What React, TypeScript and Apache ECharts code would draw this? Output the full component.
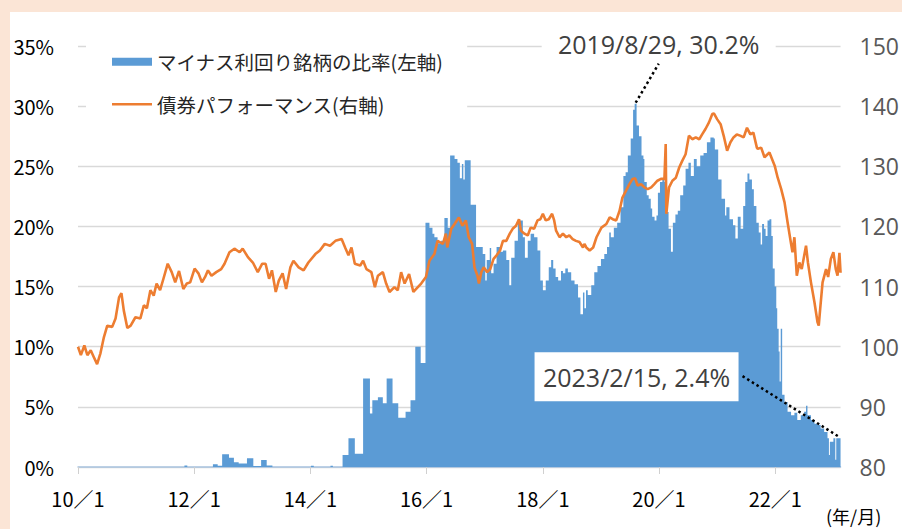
import React, { useEffect, useRef } from 'react';
import * as echarts from 'echarts';

const ratioName = 'マイナス利回り銘柄の比率(左軸)';
const perfName = '債券パフォーマンス(右軸)';

const xTickDates = ['2010-01-01', '2012-01-01', '2014-01-01', '2016-01-01', '2018-01-01', '2020-01-01', '2022-01-01'];
const xMinDate = '2010-01-01';
const xMaxDate = '2023-02-15';

const peakLabel = '2019/8/29, 30.2%';
const lastLabel = '2023/2/15, 2.4%';

const ratioDates = [
  '2010-01-01', '2011-11-01', '2011-11-19', '2012-04-28', '2012-05-28', '2012-06-25', '2012-08-07', '2012-09-07',
  '2012-10-07', '2012-11-28', '2013-01-07', '2013-02-25', '2013-04-01', '2013-05-07', '2014-01-04', '2014-01-22',
  '2014-05-07', '2014-05-22', '2014-07-22', '2014-08-28', '2014-10-07', '2014-11-28', '2015-01-10', '2015-01-25',
  '2015-03-01', '2015-04-01', '2015-04-25', '2015-06-01', '2015-07-07', '2015-08-22', '2015-09-22', '2015-10-22',
  '2015-11-25', '2015-12-25', '2016-01-19', '2016-02-07', '2016-02-19', '2016-03-10', '2016-04-01', '2016-04-22',
  '2016-05-13', '2016-05-28', '2016-06-25', '2016-07-13', '2016-07-28', '2016-08-10', '2016-08-19', '2016-08-28',
  '2016-10-04', '2016-11-07', '2016-12-19', '2017-01-04', '2017-01-13', '2017-02-01', '2017-02-10', '2017-02-25',
  '2017-03-16', '2017-04-07', '2017-04-25', '2017-05-16', '2017-06-04', '2017-06-16', '2017-07-07', '2017-07-28',
  '2017-08-07', '2017-08-28', '2017-09-10', '2017-09-28', '2017-10-16', '2017-11-07', '2017-11-28', '2017-12-16',
  '2018-01-01', '2018-01-19', '2018-02-07', '2018-02-22', '2018-03-07', '2018-03-22', '2018-04-07', '2018-04-25',
  '2018-05-07', '2018-05-22', '2018-06-07', '2018-06-28', '2018-07-19', '2018-08-10', '2018-08-25', '2018-09-10',
  '2018-09-19', '2018-09-29', '2018-10-10', '2018-11-01', '2018-11-20', '2018-12-10', '2019-01-01', '2019-01-22',
  '2019-02-08', '2019-02-22', '2019-03-04', '2019-03-23', '2019-04-13', '2019-05-04', '2019-05-22', '2019-06-05',
  '2019-06-19', '2019-07-07', '2019-07-22', '2019-08-01', '2019-08-13', '2019-08-28', '2019-09-13', '2019-09-25',
  '2019-10-01', '2019-10-16', '2019-10-28', '2019-11-10', '2019-11-19', '2019-12-04', '2019-12-16', '2019-12-25',
  '2020-01-07', '2020-01-22', '2020-02-04', '2020-02-19', '2020-03-01', '2020-03-16', '2020-03-28', '2020-04-13',
  '2020-04-28', '2020-05-13', '2020-06-01', '2020-06-16', '2020-07-04', '2020-07-19', '2020-08-07', '2020-08-25',
  '2020-09-16', '2020-10-07', '2020-10-28', '2020-11-19', '2020-12-10', '2020-12-17', '2021-01-07', '2021-01-28',
  '2021-02-19', '2021-02-27', '2021-03-19', '2021-04-10', '2021-04-25', '2021-05-10', '2021-05-28', '2021-06-13',
  '2021-06-26', '2021-07-10', '2021-07-22', '2021-08-07', '2021-08-19', '2021-09-04', '2021-09-19', '2021-10-01',
  '2021-10-10', '2021-10-22', '2021-11-01', '2021-11-13', '2021-11-25', '2021-12-07', '2021-12-16', '2021-12-28',
  '2022-01-07', '2022-01-13', '2022-01-22', '2022-01-28', '2022-02-04', '2022-02-13', '2022-02-28', '2022-03-19',
  '2022-04-10', '2022-05-01', '2022-05-19', '2022-06-10', '2022-07-01', '2022-07-13', '2022-07-22', '2022-08-13',
  '2022-09-04', '2022-09-23', '2022-10-13', '2022-11-04', '2022-11-25', '2022-12-04', '2022-12-10', '2023-01-01',
  '2023-01-13', '2023-01-19', '2023-02-15',
];
const ratioValues = [
  0, 0.12, 0, 0.22, 0.1, 1.05, 0.77, 0.39,
  0.3, 0.72, 0.08, 0.58, 0.12, 0, 0.1, 0,
  0.1, 0, 1.0, 2.4, 1.1, 7.35, 4.45, 5.55,
  5.8, 5.3, 7.35, 5.3, 4.1, 4.6, 5.55, 10.0,
  8.65, 20.3, 19.9, 19.4, 19.1, 18.6, 18.8, 20.7,
  19.9, 25.9, 25.6, 25.3, 24.0, 25.2, 23.9, 25.5,
  21.8, 18.3, 17.7, 15.5, 17.2, 18.2, 16.1, 16.9,
  18.3, 17.9, 18.0, 17.2, 15.1, 17.4, 18.8, 20.6,
  20.5, 19.1, 17.4, 18.8, 19.4, 19.1, 18.0, 15.5,
  14.7, 15.5, 16.6, 17.2, 16.5, 15.8, 15.5, 16.3,
  16.1, 16.5, 16.2, 15.5, 15.2, 14.1, 12.7, 14.5,
  13.2, 14.7, 14.3, 15.1, 16.2, 16.7, 17.3, 17.7,
  18.3, 19.5, 19.1, 19.9, 20.3, 21.6, 24.2, 24.5,
  25.9, 27.3, 29.7, 30.2, 28.4, 27.5, 25.9, 25.6,
  23.7, 22.6, 22.3, 21.5, 20.8, 20.5, 20.9, 22.8,
  23.7, 23.9, 23.7, 21.2, 19.8, 17.9, 20.3, 21.0,
  21.3, 22.6, 23.4, 24.8, 25.3, 24.2, 25.6, 25.0,
  25.9, 26.1, 27.0, 27.4, 27.3, 26.4, 23.9, 22.3,
  20.9, 21.6, 20.6, 20.1, 19.0, 20.8, 19.8, 21.7,
  23.7, 24.4, 23.9, 23.1, 21.7, 20.3, 19.5, 18.5,
  20.2, 19.8, 19.2, 20.5, 20.6, 19.2, 16.5, 15.0,
  13.2, 11.5, 9.6, 7.1, 11.5, 6.0, 5.4, 4.6,
  4.3, 4.5, 3.9, 4.3, 4.6, 5.1, 4.3, 3.9,
  3.6, 3.5, 3.2, 2.9, 2.4, 1.0, 2.1, 2.4,
  0.6, 2.4, 2.4,
];

const perfDates = [
  '2010-01-01', '2010-01-19', '2010-02-10', '2010-03-01', '2010-03-22', '2010-04-10', '2010-05-01', '2010-05-22',
  '2010-06-13', '2010-07-04', '2010-08-04', '2010-08-25', '2010-09-16', '2010-10-01', '2010-10-16', '2010-11-07',
  '2010-11-28', '2010-12-28', '2011-01-28', '2011-02-19', '2011-03-10', '2011-04-01', '2011-04-22', '2011-05-10',
  '2011-06-01', '2011-06-22', '2011-07-19', '2011-08-13', '2011-09-04', '2011-09-28', '2011-10-25', '2011-11-16',
  '2011-12-07', '2012-01-04', '2012-01-28', '2012-02-19', '2012-03-10', '2012-03-28', '2012-04-19', '2012-05-19',
  '2012-06-19', '2012-07-10', '2012-08-10', '2012-09-10', '2012-10-13', '2012-11-01', '2012-12-04', '2013-01-04',
  '2013-02-04', '2013-03-04', '2013-03-25', '2013-04-16', '2013-05-04', '2013-05-28', '2013-06-16', '2013-07-10',
  '2013-08-01', '2013-08-28', '2013-09-16', '2013-10-19', '2013-11-19', '2013-12-19', '2014-02-01', '2014-03-01',
  '2014-04-01', '2014-05-04', '2014-06-07', '2014-07-16', '2014-08-07', '2014-08-28', '2014-09-16', '2014-10-07',
  '2014-11-10', '2014-11-28', '2014-12-19', '2015-01-19', '2015-02-10', '2015-03-01', '2015-04-01', '2015-04-22',
  '2015-05-13', '2015-06-13', '2015-07-04', '2015-07-25', '2015-08-16', '2015-09-13', '2015-10-10', '2015-11-07',
  '2015-11-28', '2015-12-28', '2016-01-19', '2016-02-19', '2016-03-10', '2016-04-13', '2016-05-01', '2016-05-10',
  '2016-06-04', '2016-06-25', '2016-07-22', '2016-08-13', '2016-09-04', '2016-09-22', '2016-10-13', '2016-10-28',
  '2016-11-16', '2016-11-25', '2016-12-10', '2016-12-25', '2017-01-16', '2017-02-04', '2017-02-25', '2017-03-16',
  '2017-04-07', '2017-04-25', '2017-05-16', '2017-06-07', '2017-06-25', '2017-07-16', '2017-08-04', '2017-08-16',
  '2017-09-07', '2017-09-28', '2017-10-16', '2017-11-07', '2017-11-28', '2017-12-16', '2018-01-01', '2018-01-19',
  '2018-02-07', '2018-02-28', '2018-03-13', '2018-03-25', '2018-04-16', '2018-05-07', '2018-05-28', '2018-06-16',
  '2018-07-07', '2018-07-28', '2018-08-19', '2018-09-10', '2018-09-19', '2018-10-01', '2018-10-22', '2018-11-13',
  '2018-12-04', '2019-01-04', '2019-02-04', '2019-02-25', '2019-03-16', '2019-04-07', '2019-04-28', '2019-05-16',
  '2019-06-07', '2019-06-28', '2019-07-19', '2019-08-04', '2019-08-19', '2019-09-10', '2019-10-01', '2019-10-22',
  '2019-11-13', '2019-12-01', '2019-12-22', '2020-01-13', '2020-02-04', '2020-02-12', '2020-02-16', '2020-03-04',
  '2020-03-25', '2020-04-16', '2020-05-07', '2020-05-26', '2020-06-16', '2020-07-07', '2020-07-28', '2020-08-19',
  '2020-09-10', '2020-09-28', '2020-10-19', '2020-11-10', '2020-12-01', '2020-12-11', '2021-01-01', '2021-01-22',
  '2021-02-13', '2021-03-04', '2021-03-25', '2021-04-13', '2021-05-04', '2021-05-25', '2021-06-16', '2021-07-07',
  '2021-07-28', '2021-08-16', '2021-09-07', '2021-09-13', '2021-10-04', '2021-10-25', '2021-11-25', '2021-12-28',
  '2022-01-16', '2022-02-07', '2022-02-28', '2022-03-19', '2022-04-10', '2022-04-19', '2022-05-01', '2022-05-16',
  '2022-06-01', '2022-06-16', '2022-07-13', '2022-07-25', '2022-08-13', '2022-09-04', '2022-09-23', '2022-10-01',
  '2022-10-10', '2022-10-25', '2022-11-16', '2022-11-29', '2022-12-16', '2023-01-01', '2023-01-16', '2023-01-27',
  '2023-02-08', '2023-02-15',
];
const perfValues = [
  100.0, 98.6, 100.2, 98.6, 99.4, 98.3, 97.1, 98.9,
  101.6, 103.5, 103.3, 104.7, 108.2, 108.9, 106.0, 103.1,
  103.5, 104.9, 104.7, 106.9, 106.4, 109.4, 108.5, 110.5,
  109.4, 111.3, 113.8, 112.4, 110.7, 112.6, 109.6, 110.5,
  110.7, 113.0, 112.2, 110.7, 111.6, 112.7, 111.8, 112.4,
  112.9, 113.8, 115.7, 116.3, 115.7, 116.3, 114.9, 114.0,
  112.4, 113.8, 113.8, 111.3, 112.7, 109.1, 111.0, 112.2,
  109.6, 113.2, 114.3, 113.2, 112.7, 114.0, 115.4, 116.0,
  117.1, 116.8, 117.6, 117.9, 116.5, 115.2, 116.5, 113.8,
  113.5, 114.3, 112.9, 112.4, 109.9, 111.8, 112.4, 110.5,
  109.1, 109.9, 109.4, 112.4, 110.5, 112.1, 109.1, 109.9,
  110.5, 111.6, 114.3, 115.4, 117.6, 117.1, 118.8, 116.5,
  119.6, 120.4, 121.5, 120.1, 121.0, 118.2, 117.1, 113.2,
  111.8, 110.5, 112.4, 113.2, 112.4, 112.9, 114.6, 115.2,
  116.0, 117.6, 117.6, 118.8, 119.6, 120.1, 121.2, 119.3,
  118.8, 118.5, 119.8, 119.6, 121.0, 121.2, 122.1, 121.0,
  121.2, 122.1, 121.0, 119.3, 118.2, 118.8, 118.2, 118.5,
  117.9, 117.6, 117.4, 116.5, 117.1, 116.5, 116.0, 116.5,
  118.2, 119.8, 120.4, 121.5, 121.2, 121.0, 122.6, 124.8,
  125.9, 127.0, 127.9, 128.0, 126.8, 127.0, 126.5, 126.2,
  126.5, 127.0, 127.6, 127.9, 127.9, 133.7, 122.1, 126.5,
  127.6, 128.1, 129.8, 130.9, 132.0, 135.1, 134.5, 134.8,
  134.5, 135.3, 136.2, 137.3, 138.7, 138.8, 137.8, 137.0,
  134.8, 132.6, 134.0, 134.8, 135.3, 135.1, 134.8, 136.4,
  135.3, 135.6, 133.1, 132.9, 133.1, 131.5, 132.3, 130.1,
  128.1, 126.2, 124.0, 120.7, 117.1, 115.7, 118.2, 111.8,
  114.0, 112.9, 116.8, 114.0, 110.7, 107.4, 104.1, 103.5,
  106.3, 110.7, 112.9, 111.6, 114.6, 115.7, 112.9, 111.8,
  115.6, 112.3,
];

function toTime(s: string): number {
  const [y, m, d] = s.split('-').map(Number);
  return new Date(y, m - 1, d).getTime();
}

export default function App() {
  const ref = useRef<HTMLDivElement>(null);

  useEffect(() => {
    if (!ref.current) return;
    const chart = echarts.init(ref.current, null, { renderer: 'svg' });

    const ratioData = ratioDates.map((d, i) => [toTime(d), ratioValues[i]]);
    const perfData = perfDates.map((d, i) => [toTime(d), perfValues[i]]);
    const tickValues = xTickDates.map(toTime);

    const plotRect = {
      type: 'rect',
      id: 'plotbg',
      shape: { x: 10, y: 12, width: 900, height: 520 },
      style: { fill: '#ffffff' },
      z: -10,
      silent: true,
    };
    const unitText = {
      type: 'text',
      id: 'unit',
      x: 826,
      y: 516,
      style: {
        text: '(年/月)',
        fontSize: 18,
        fontFamily: 'Noto Sans CJK JP',
        fill: '#000000',
        verticalAlign: 'middle',
      },
      z: 50,
    };

    chart.setOption({
      animation: false,
      backgroundColor: '#fbe5d6',
      grid: { left: 78, right: 56, top: 46, bottom: 62 },
      legend: {
        orient: 'vertical',
        left: 86,
        top: 30,
        itemWidth: 40,
        itemHeight: 8,
        itemGap: 23,
        backgroundColor: '#ffffff',
        padding: [22, 24, 14, 26],
        textStyle: { fontSize: 19.5, color: '#262626', fontFamily: 'Noto Sans CJK JP' },
        data: [
          { name: ratioName, icon: 'rect' },
          { name: perfName, icon: 'path://M0,0M40,8M0,2.75H40V5.25H0Z' },
        ],
      },
      xAxis: {
        type: 'value',
        min: toTime(xMinDate),
        max: toTime(xMaxDate),
        axisLine: { lineStyle: { color: '#a9c3e0', width: 1.5 } },
        axisTick: { show: true, customValues: tickValues, length: 7, lineStyle: { color: '#d0d0d0' } },
        axisLabel: {
          customValues: tickValues,
          formatter: (v: number) => {
            const dt = new Date(v);
            return `${String(dt.getFullYear()).slice(2)}／${dt.getMonth() + 1}`;
          },
          fontSize: 20,
          color: '#000000',
          fontFamily: 'Noto Sans CJK JP',
          margin: 21,
        },
        splitLine: { show: false },
      },
      yAxis: [
        {
          type: 'value',
          min: 0,
          max: 35,
          interval: 5,
          position: 'left',
          axisLine: { show: false },
          axisTick: { show: false },
          axisLabel: { formatter: '{value}%', fontSize: 20, color: '#000000', fontFamily: 'Noto Sans CJK JP', margin: 24 },
          splitLine: { lineStyle: { color: '#d9d9d9', width: 1.3 } },
        },
        {
          type: 'value',
          min: 80,
          max: 150,
          interval: 10,
          position: 'right',
          axisLine: { show: false },
          axisTick: { show: false },
          axisLabel: { fontSize: 23, color: '#595959', fontFamily: 'Open Sans', margin: 19 },
          splitLine: { show: false },
        },
      ],
      graphic: [plotRect, unitText],
      series: [
        {
          name: ratioName,
          type: 'line',
          step: 'end',
          yAxisIndex: 0,
          data: ratioData,
          symbol: 'none',
          color: '#5b9bd5',
          lineStyle: { width: 0, color: '#5b9bd5' },
          areaStyle: { color: '#5b9bd5', opacity: 1 },
          z: 2,
        },
        {
          name: perfName,
          type: 'line',
          yAxisIndex: 1,
          data: perfData,
          symbol: 'none',
          color: '#ed7d31',
          lineStyle: { width: 2.6, color: '#ed7d31' },
          z: 3,
        },
      ],
    });

    let peakIdx = 0;
    ratioValues.forEach((v, i) => {
      if (v > ratioValues[peakIdx]) peakIdx = i;
    });
    const lastIdx = ratioValues.length - 1;
    const p1 = chart.convertToPixel({ xAxisIndex: 0, yAxisIndex: 0 }, ratioData[peakIdx]) as number[];
    const p2 = chart.convertToPixel({ xAxisIndex: 0, yAxisIndex: 0 }, ratioData[lastIdx]) as number[];

    const labelFont = { fontSize: 25, fontFamily: 'Open Sans', fill: '#404040' };

    chart.setOption({
      graphic: [
        plotRect,
        unitText,
        {
          type: 'rect',
          id: 'box1',
          shape: { x: p1[0] + 24 - 117, y: p1[1] - 76, width: 234, height: 32 },
          style: { fill: '#ffffff' },
          z: 60,
        },
        {
          type: 'text',
          id: 'lab1',
          x: p1[0] + 24,
          y: p1[1] - 60,
          style: { text: peakLabel, align: 'center', verticalAlign: 'middle', ...labelFont },
          z: 61,
        },
        {
          type: 'line',
          id: 'lead1',
          shape: { x1: p1[0] + 1, y1: p1[1] - 1, x2: p1[0] + 24, y2: p1[1] - 40 },
          style: { stroke: '#000000', lineWidth: 2.5, lineDash: [2.5, 3] },
          z: 62,
        },
        {
          type: 'rect',
          id: 'box2',
          shape: { x: p2[0] - 306, y: p2[1] - 86, width: 204, height: 49 },
          style: { fill: '#ffffff' },
          z: 60,
        },
        {
          type: 'text',
          id: 'lab2',
          x: p2[0] - 204,
          y: p2[1] - 61,
          style: { text: lastLabel, align: 'center', verticalAlign: 'middle', ...labelFont },
          z: 61,
        },
        {
          type: 'line',
          id: 'lead2',
          shape: { x1: p2[0] - 98, y1: p2[1] - 62, x2: p2[0] - 1, y2: p2[1] - 1 },
          style: { stroke: '#000000', lineWidth: 2.5, lineDash: [2.5, 3] },
          z: 62,
        },
      ],
    });

    return () => chart.dispose();
  }, []);

  return <div ref={ref} style={{ position: 'absolute', left: 0, top: 0, width: 902, height: 529 }} />;
}
